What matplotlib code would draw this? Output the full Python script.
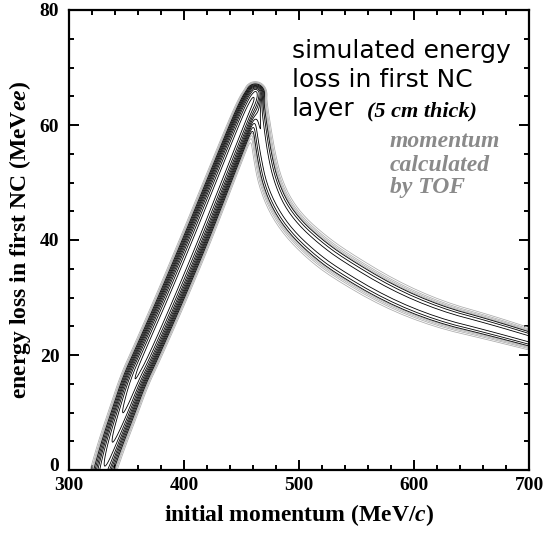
import matplotlib
matplotlib.use("Agg")
import matplotlib.pyplot as plt
import numpy as np
from matplotlib.ticker import MultipleLocator
from matplotlib.transforms import ScaledTranslation


# rising branch ridge (momentum, energy loss)
RISE_P = [330, 338, 347, 357, 367, 389, 410, 430, 450, 458, 462]
RISE_E = [0, 5, 10, 15.7, 20, 30, 40, 50, 60, 63.8, 65.6]
RISE_AMP = [25, 40, 60, 85, 100, 100, 100, 100, 100, 95, 60]
RISE_WIDTH = [4.6, 4.6, 4.6, 4.6, 4.6, 4.6, 4.6, 4.4, 4.2, 4.0, 3.6]   # px

# falling (punch-through) branch ridge
FALL_P = [463, 466, 470, 475, 484, 497, 515, 535, 578, 621, 665, 700]
FALL_E = [64.8, 59.8, 54.5, 50, 45.8, 42.2, 38.8, 35.8, 30.7, 27.1, 24.8, 22.8]
FALL_AMP = [14, 12, 11, 11, 10, 10, 10, 10, 10, 10, 10, 10]
FALL_WIDTH = [3.8, 4.2, 4.5, 4.8, 5.2, 5.6, 6.0, 6.2, 6.0, 5.5, 5.0, 4.4]   # px

GRAY_LEVELS = [0.5, 1.0, 1.6, 2.3]
BLACK_LEVELS = [3, 5, 8, 12, 18, 27, 40, 60, 85]

X_TICKS = [300, 400, 500, 600, 700]
Y_TICKS = [0, 20, 40, 60, 80]

# pixels per data unit in the figure
PX_P = 460 / 400
PX_E = 460 / 80


plt.rcParams['font.family'] = ['Liberation Serif', 'DejaVu Serif']
plt.rcParams['mathtext.fontset'] = 'custom'
plt.rcParams['mathtext.rm'] = 'Liberation Serif:bold'
plt.rcParams['mathtext.it'] = 'Liberation Serif:italic:bold'


def chaikin(pts, n=2):
    # corner cutting, keeps the end points
    for _ in range(n):
        q = 0.75 * pts[:-1] + 0.25 * pts[1:]
        r = 0.25 * pts[:-1] + 0.75 * pts[1:]
        mid = np.empty((2 * len(q), pts.shape[1]))
        mid[0::2] = q
        mid[1::2] = r
        pts = np.vstack([pts[:1], mid, pts[-1:]])
    return pts


def branch(X, Y, p, e, amp, width):
    pts = np.column_stack([np.array(p) * PX_P, np.array(e) * PX_E,
                           amp, width]).astype(float)
    pts = chaikin(pts)
    best = np.full(X.shape, np.inf)
    a_best = np.zeros(X.shape)
    w_best = np.ones(X.shape)
    for a, b in zip(pts[:-1], pts[1:]):
        d = b[:2] - a[:2]
        t = ((X - a[0]) * d[0] + (Y - a[1]) * d[1]) / (d @ d)
        t = np.clip(t, 0, 1)
        dist = np.hypot(X - a[0] - t * d[0], Y - a[1] - t * d[1])
        m = dist < best
        best[m] = dist[m]
        a_best[m] = (a[2] + t * (b[2] - a[2]))[m]
        w_best[m] = (a[3] + t * (b[3] - a[3]))[m]
    return a_best * np.exp(-best ** 2 / (2 * w_best ** 2))


p = np.linspace(300, 700, 801)
e = np.linspace(0, 80, 641)
P, E = np.meshgrid(p, e)
X, Y = P * PX_P, E * PX_E
Z = branch(X, Y, RISE_P, RISE_E, RISE_AMP, RISE_WIDTH) + \
    branch(X, Y, FALL_P, FALL_E, FALL_AMP, FALL_WIDTH)

fig = plt.figure(figsize=(5.48, 5.35), dpi=100)
ax = fig.add_axes([69 / 548, 65 / 535, 460 / 548, 460 / 535])

ax.contour(P, E, Z, levels=GRAY_LEVELS, colors='#ababab', linewidths=0.55)
ax.contour(P, E, Z, levels=BLACK_LEVELS, colors='black', linewidths=0.6)

ax.set_xlim(300, 700)
ax.set_ylim(0, 80)
ax.set_xticks(X_TICKS)
ax.set_yticks(Y_TICKS)
ax.xaxis.set_minor_locator(MultipleLocator(20))
ax.yaxis.set_minor_locator(MultipleLocator(5))
ax.tick_params(which='both', direction='in', top=True, right=True, width=1.4)
ax.tick_params(which='major', length=7, labelsize=14)
ax.tick_params(which='minor', length=3.5)
ax.tick_params(axis='x', pad=5)
ax.tick_params(axis='y', pad=7)
for lab in ax.get_xticklabels() + ax.get_yticklabels():
    lab.set_fontweight('bold')
for sp in ax.spines.values():
    sp.set_linewidth(1.6)

# the "0" sits a little above the axis line, clear of the "300"
zero = ax.get_yticklabels()[0]
zero.set_transform(zero.get_transform() + ScaledTranslation(0, 4 / 72, fig.dpi_scale_trans))

ax.set_xlabel(r'initial momentum (MeV/$c$)', fontsize=17, fontweight='bold', labelpad=6)
ax.set_ylabel(r'energy loss in first NC (MeV$ee$)', fontsize=17, fontweight='bold', labelpad=5)

sans = ['DejaVu Sans']
for text, y in [('simulated energy', 58), ('loss in first NC', 87), ('layer', 116)]:
    fig.text(292 / 548, 1 - y / 535, text, family=sans, fontsize=18, va='baseline')
fig.text(367 / 548, 1 - 116 / 535, r'(5 cm thick)', fontsize=16, fontweight='bold',
         style='italic', va='baseline')

for text, y in [('momentum', 147), ('calculated', 171), ('by TOF', 193)]:
    fig.text(390 / 548, 1 - y / 535, text, fontsize=17, fontweight='bold', style='italic',
             color='#8a8a8a', va='baseline')

fig.savefig('out.png', dpi=100)
